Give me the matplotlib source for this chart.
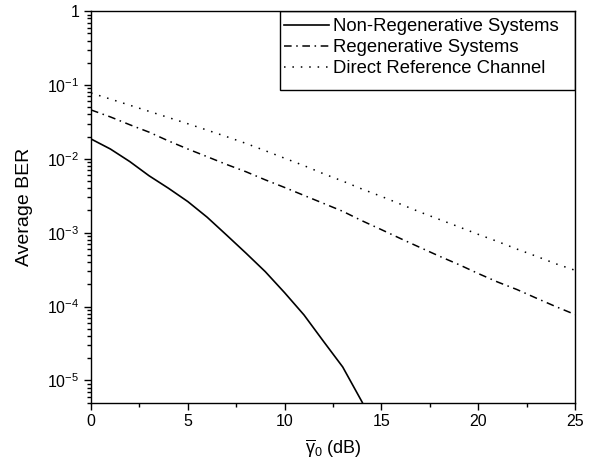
import numpy as np
import matplotlib
matplotlib.use('Agg')
import matplotlib.pyplot as plt
from matplotlib.patches import Rectangle
from matplotlib.ticker import FixedLocator, FuncFormatter, LogLocator, NullFormatter, MultipleLocator

plt.rcParams['font.family'] = ['Liberation Sans', 'DejaVu Sans']
plt.rcParams['mathtext.fontset'] = 'custom'
plt.rcParams['mathtext.rm'] = 'Liberation Sans'
plt.rcParams['mathtext.it'] = 'Liberation Sans'
plt.rcParams['mathtext.default'] = 'rm'

# SNR (dB)
snr_nonregen = [0, 1, 2, 3, 4, 5, 6, 7, 8, 9, 10, 11, 12, 13, 14, 15]
ber_nonregen = [1.86e-2, 1.36e-2, 9.2e-3, 5.9e-3, 4.0e-3, 2.64e-3, 1.62e-3, 9.3e-4,
                5.3e-4, 2.97e-4, 1.54e-4, 7.7e-5, 3.4e-5, 1.52e-5, 5.1e-6, 1.4e-6]

snr = list(range(0, 26))
ber_regen = [4.6e-2, 3.7e-2, 2.9e-2, 2.3e-2, 1.75e-2, 1.36e-2, 1.07e-2, 8.4e-3, 6.7e-3,
             5.2e-3, 4.1e-3, 3.2e-3, 2.5e-3, 1.95e-3, 1.45e-3, 1.1e-3, 8.3e-4, 6.3e-4,
             4.8e-4, 3.7e-4, 2.8e-4, 2.15e-4, 1.7e-4, 1.3e-4, 1.0e-4, 7.8e-5]
ber_direct = [7.8e-2, 6.46e-2, 5.33e-2, 4.4e-2, 3.63e-2, 2.99e-2, 2.45e-2, 2.0e-2, 1.62e-2,
              1.29e-2, 1.02e-2, 8.1e-3, 6.3e-3, 5.0e-3, 3.9e-3, 3.1e-3, 2.43e-3, 1.9e-3,
              1.51e-3, 1.2e-3, 9.5e-4, 7.6e-4, 6.0e-4, 4.8e-4, 3.8e-4, 3.1e-4]

fig = plt.figure(figsize=(5.91, 4.66), dpi=100)
ax = fig.add_axes([0.154, 0.136, 0.819, 0.840])

ax.semilogy(snr_nonregen, ber_nonregen, color='black', lw=1.2, linestyle='-',
            label='Non-Regenerative Systems')
ax.semilogy(snr, ber_regen, color='black', lw=1.1, linestyle=(0, (5, 3, 1, 3)),
            label='Regenerative Systems')
ax.semilogy(snr, ber_direct, color='black', lw=1.1, linestyle=(0, (1, 4.5)),
            label='Direct Reference Channel')

ax.set_xlim(0, 25)
ax.set_ylim(5e-6, 1)

ax.xaxis.set_major_locator(MultipleLocator(5))
ax.xaxis.set_minor_locator(MultipleLocator(2.5))
ax.yaxis.set_major_locator(FixedLocator([1e-5, 1e-4, 1e-3, 1e-2, 1e-1, 1]))
ax.yaxis.set_minor_locator(LogLocator(base=10, subs=np.arange(2, 10), numticks=20))
ax.yaxis.set_minor_formatter(NullFormatter())


def fmt(v, pos):
    e = int(round(np.log10(v)))
    if e == 0:
        return '1'
    return r'$10^{%d}$' % e


ax.yaxis.set_major_formatter(FuncFormatter(fmt))

ax.tick_params(which='both', direction='out', top=False, right=False, labelsize=11.5, width=1)
ax.tick_params(which='major', length=5)
ax.tick_params(which='minor', length=3)
for s in ax.spines.values():
    s.set_linewidth(1.0)

ax.set_xlabel(r'$\overline{\gamma}_0$ (dB)', fontsize=13, labelpad=6)
ax.set_ylabel('Average BER', fontsize=14, labelpad=10)

# legend without its own frame, box drawn separately (wider on the right)
leg = ax.legend(loc='upper left', bbox_to_anchor=(0.384, 1.0), fontsize=13.3,
                frameon=False, handlelength=2.45, handletextpad=0.22,
                labelspacing=0.22, borderpad=0.38, borderaxespad=0)
box = Rectangle((0.3905, 0.798), 1 - 0.3905, 1 - 0.798, transform=ax.transAxes,
                fill=False, edgecolor='black', lw=1.0, zorder=5)
ax.add_patch(box)

fig.savefig('out.png', dpi=100)
